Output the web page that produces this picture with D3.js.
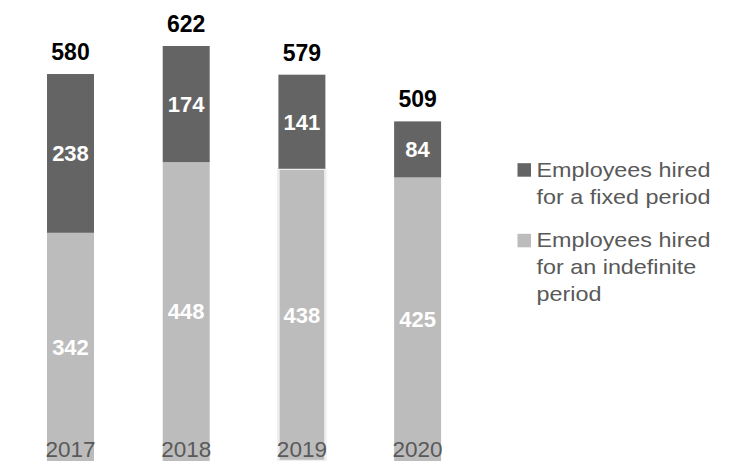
<!DOCTYPE html>
<html>
<head>
<meta charset="utf-8">
<script src="https://cdn.jsdelivr.net/npm/d3@7"></script>
<style>
  html, body { margin: 0; padding: 0; background: #fff; }
  svg { display: block; font-family: "Liberation Sans", Arial, sans-serif; }
</style>
</head>
<body>
<svg id="chart" width="729" height="461"></svg>
<script>
// Employees by contract type, per year
const years = ["2017", "2018", "2019", "2020"];
const fixedPeriod = [238, 174, 141, 84];
const indefinitePeriod = [342, 448, 438, 425];
const totals = [580, 622, 579, 509];
const seriesNames = ["Employees hired for a fixed period", "Employees hired for an indefinite period"];
const legendLines = [
  ["Employees hired", "for a fixed period"],
  ["Employees hired", "for an indefinite", "period"]
];
const separatedYear = "2019";

const colors = { fixed: "#646464", indefinite: "#bcbcbc", axisText: "#595959" };

const svg = d3.select("#chart");

const x = d3.scaleBand()
  .domain(years)
  .range([12.3, 475.8])
  .paddingInner(0.594)
  .paddingOuter(0.3);

const y = d3.scaleLinear()
  .domain([0, 622])
  .range([461, 46]);

const rows = years.map((yr, i) => ({
  year: yr,
  indefinite: indefinitePeriod[i],
  fixed: fixedPeriod[i],
  total: totals[i]
}));

const stacked = d3.stack().keys(["indefinite", "fixed"])(rows);

const layers = svg.append("g").selectAll("g")
  .data(stacked)
  .join("g")
  .attr("fill", d => colors[d.key]);

layers.selectAll("rect")
  .data(d => d.map(p => ({ key: d.key, p })))
  .join("rect")
  .attr("x", d => x(d.p.data.year))
  .attr("width", x.bandwidth())
  .attr("y", d => y(d.p[1]))
  .attr("height", d => y(d.p[0]) - y(d.p[1]))
  .attr("stroke", d => (d.key === "indefinite" && d.p.data.year === separatedYear) ? "#eeeeee" : "none")
  .attr("stroke-width", 2.5);

// segment values
const segLabels = svg.append("g")
  .attr("fill", "#ffffff")
  .attr("font-weight", "bold")
  .attr("font-size", "22px")
  .attr("text-anchor", "middle");

stacked.forEach(layer => {
  segLabels.selectAll(null)
    .data(layer)
    .join("text")
    .attr("x", d => x(d.data.year) + x.bandwidth() / 2)
    .attr("y", d => (y(d[0]) + y(d[1])) / 2)
    .attr("dy", "0.36em")
    .text(d => d[1] - d[0]);
});

// totals above bars
svg.append("g")
  .selectAll("text")
  .data(rows)
  .join("text")
  .attr("x", d => x(d.year) + x.bandwidth() / 2)
  .attr("y", d => y(d.total) - 14)
  .attr("text-anchor", "middle")
  .attr("font-weight", "bold")
  .attr("font-size", "23px")
  .attr("fill", "#000000")
  .text(d => d.total);

// year axis labels
const xAxis = d3.axisBottom(x).tickSize(0).tickPadding(0);
const axisG = svg.append("g")
  .attr("transform", "translate(0,441)")
  .call(xAxis);
axisG.select(".domain").remove();
axisG.selectAll("text")
  .attr("font-size", "22.5px")
  .attr("font-family", "\"Liberation Sans\", Arial, sans-serif")
  .attr("fill", colors.axisText)
  .attr("dy", "0.72em");

// legend
const legend = svg.append("g");
const legendKeys = ["fixed", "indefinite"];
const entryTop = [176.7, 247.3];
const lineHeight = 26.8;
legendKeys.forEach((k, i) => {
  const g = legend.append("g").attr("aria-label", seriesNames[i]);
  g.append("rect")
    .attr("x", 517.5)
    .attr("y", entryTop[i] - 13.5)
    .attr("width", 13.5)
    .attr("height", 13.5)
    .attr("fill", colors[k]);
  legendLines[i].forEach((line, j) => {
    const bx = 536.5, by = entryTop[i] + j * lineHeight;
    g.append("text")
      .attr("transform", `translate(${bx},${by}) scale(1.18,1)`)
      .attr("font-size", "19.8px")
      .attr("fill", colors.axisText)
      .text(line);
  });
});
</script>
</body>
</html>
